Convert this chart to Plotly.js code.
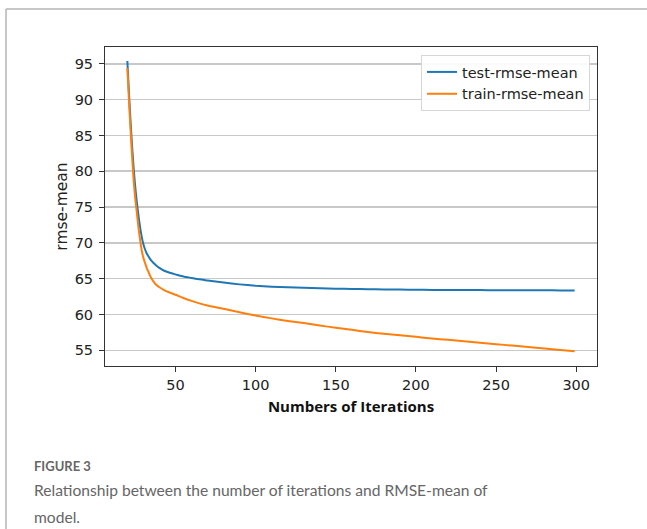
<!DOCTYPE html>
<html>
<head>
<meta charset="utf-8">
<script src="https://cdn.plot.ly/plotly-3.0.1.min.js"></script>
<style>html,body{margin:0;padding:0;background:#fff;}#chart{width:647px;height:529px;}</style>
</head>
<body>
<div id="chart"></div>
<script>
// Data
const iterations = [20,21,22,23,24,25,26,27,28,29,30,31,32,33,34,35,36,38,40,43,46,50,55,60,65,70,80,90,100,110,120,130,140,150,160,170,180,190,200,210,220,230,240,250,260,270,280,290,299];
const testRmseMean = [95.4,90.9,86.9,83.3,80.2,77.6,75.5,73.7,72.1,70.8,69.8,69.1,68.55,68.15,67.8,67.5,67.25,66.85,66.5,66.1,65.85,65.6,65.3,65.1,64.9,64.75,64.45,64.2,64.0,63.88,63.8,63.72,63.66,63.6,63.56,63.53,63.5,63.47,63.45,63.43,63.42,63.41,63.4,63.39,63.38,63.37,63.37,63.36,63.35];
const trainRmseMean = [94.4,89.9,85.7,81.9,78.5,76.0,74.0,72.0,70.3,68.9,67.9,67.2,66.55,66.0,65.5,65.05,64.7,64.15,63.8,63.4,63.1,62.75,62.3,61.9,61.55,61.25,60.8,60.3,59.85,59.45,59.1,58.8,58.45,58.15,57.85,57.55,57.3,57.1,56.87,56.65,56.45,56.25,56.05,55.85,55.65,55.45,55.25,55.05,54.86];
const seriesNames = ["test-rmse-mean","train-rmse-mean"];
const xTicks = [50,100,150,200,250,300];
const yTicks = [55,60,65,70,75,80,85,90,95];
const xTitle = "Numbers of Iterations";
const yTitle = "rmse-mean";
const figLabel = "FIGURE 3";
const captionLines = ["Relationship between the number of iterations and RMSE-mean of","model."];

const W = 647, H = 529;
const M = {l:105, r:50, t:47, b:163};
const pw = W - M.l - M.r, ph = H - M.t - M.b;
const px = v => (v - M.l) / pw;
const py = v => (H - M.b - v) / ph;

const traces = [
  {x: iterations, y: testRmseMean, name: seriesNames[0], type: 'scatter', mode: 'lines',
   line: {color: '#1f77b4', width: 2, shape: 'spline', smoothing: 0.5}},
  {x: iterations, y: trainRmseMean, name: seriesNames[1], type: 'scatter', mode: 'lines',
   line: {color: '#ff7f0e', width: 2, shape: 'spline', smoothing: 0.5}}
];

const axisFont = {family: 'DejaVu Sans', size: 14.5, color: '#222'};
const capColor = '#666666';

const layout = {
  width: W, height: H,
  margin: M,
  paper_bgcolor: '#fff', plot_bgcolor: '#fff',
  showlegend: true,
  font: axisFont,
  xaxis: {
    range: [6.05, 312.95], tickvals: xTicks, ticktext: xTicks.map(String),
    showgrid: false, zeroline: false, showline: true, mirror: true,
    linecolor: '#333', linewidth: 1, ticks: 'outside', ticklen: 5, tickcolor: '#333',
    tickfont: axisFont, ticklabelstandoff: 1,
    title: {text: xTitle, font: {family: 'Open Sans', size: 15, color: '#111', weight: 'bold'}, standoff: 9}
  },
  yaxis: {
    range: [52.8, 97.35], tickvals: yTicks, ticktext: yTicks.map(String),
    showgrid: true, gridcolor: '#c8c8c8', gridwidth: 1.5, zeroline: false,
    showline: true, mirror: true, linecolor: '#333', linewidth: 1,
    ticks: 'outside', ticklen: 5, tickcolor: '#333', tickfont: axisFont, ticklabelstandoff: 3,
    title: {text: yTitle, font: {family: 'DejaVu Sans', size: 15.5, color: '#222'}, standoff: 3}
  },
  legend: {
    x: px(590), y: py(55), xanchor: 'right', yanchor: 'top',
    bgcolor: 'rgba(255,255,255,0.9)', bordercolor: '#d6d6d6', borderwidth: 1,
    font: {family: 'DejaVu Sans', size: 14.5, color: '#222'},
    tracegroupgap: 0
  },
  shapes: [
    {type: 'line', xref: 'paper', yref: 'paper', x0: px(6), x1: px(647), y0: py(9), y1: py(9),
     line: {color: '#b5b5b5', width: 1.5}},
    {type: 'line', xref: 'paper', yref: 'paper', x0: px(6), x1: px(6), y0: py(9), y1: py(529),
     line: {color: '#b5b5b5', width: 1.5}}
  ],
  annotations: [
    {xref: 'paper', yref: 'paper', x: px(32), y: py(466), xanchor: 'left', yanchor: 'middle',
     text: figLabel, showarrow: false, font: {family: 'Lato', size: 13, color: capColor, weight: 'bold'}},
    {xref: 'paper', yref: 'paper', x: px(32), y: py(490), xanchor: 'left', yanchor: 'middle',
     text: captionLines[0], showarrow: false, font: {family: 'Lato', size: 15.6, color: capColor}},
    {xref: 'paper', yref: 'paper', x: px(32), y: py(517), xanchor: 'left', yanchor: 'middle',
     text: captionLines[1], showarrow: false, font: {family: 'Lato', size: 15.6, color: capColor}}
  ]
};

Plotly.newPlot('chart', traces, layout, {displayModeBar: false, staticPlot: true});
</script>
</body>
</html>
